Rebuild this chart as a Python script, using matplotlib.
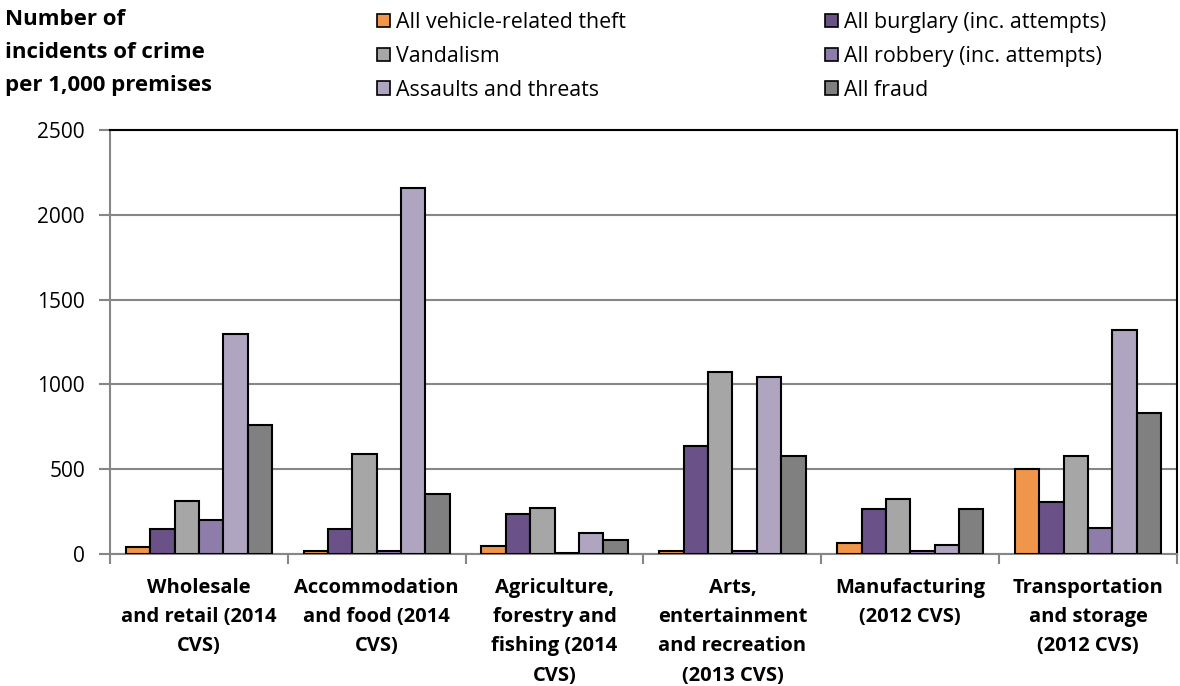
import matplotlib
matplotlib.use("Agg")
import matplotlib.pyplot as plt
import numpy as np
from matplotlib.patches import Patch

categories = ["Wholesale\nand retail (2014\nCVS)",
              "Accommodation\nand food (2014\nCVS)",
              "Agriculture,\nforestry and\nfishing (2014\nCVS)",
              "Arts,\nentertainment\nand recreation\n(2013 CVS)",
              "Manufacturing\n(2012 CVS)",
              "Transportation\nand storage\n(2012 CVS)"]
series_names = ["All vehicle-related theft", "All burglary (inc. attempts)",
                "Vandalism", "All robbery (inc. attempts)",
                "Assaults and threats", "All fraud"]
vehicle = [40, 20, 50, 20, 65, 503]
burglary = [145, 150, 235, 635, 265, 307]
vandalism = [310, 590, 270, 1075, 323, 580]
robbery = [200, 20, 4, 15, 15, 155]
assaults = [1300, 2160, 125, 1045, 53, 1319]
fraud = [760, 355, 80, 575, 265, 833]
yticks = [0, 500, 1000, 1500, 2000, 2500]

data = [vehicle, burglary, vandalism, robbery, assaults, fraud]
colors = ["#F0964A", "#6A5288", "#A6A6A6", "#8E7CAA", "#B0A5C0", "#808080"]

plt.rcParams['font.family'] = ['Open Sans', 'DejaVu Sans']

fig = plt.figure(figsize=(11.8, 6.86), dpi=100)
ax = fig.add_axes([110/1180, 1-554/686, (1177-110)/1180, (554-130)/686])

x = np.arange(len(categories))
w = 0.137
for i, (vals, c) in enumerate(zip(data, colors)):
    ax.bar(x + (i - 2.5) * w, vals, width=w, color=c, edgecolor="black",
           linewidth=1.5, zorder=3)

grey = "#868686"
ax.set_xlim(-0.5, len(categories) - 0.5)
ax.set_ylim(0, 2500)
ax.set_yticks(yticks)
ax.set_yticklabels([str(v) for v in yticks], fontsize=15)
ax.tick_params(axis='y', length=8, width=1.5, color=grey, pad=10)
ax.yaxis.grid(True, color=grey, linewidth=1.5, zorder=0)
ax.set_xticks(x)
ax.set_xticklabels(categories, fontsize=14.5, fontweight='bold', linespacing=1.62, va='top')
ax.tick_params(axis='x', length=0, pad=17)
ax.set_xticks(np.arange(-0.5, len(categories) + 0.5, 1.0), minor=True)
ax.tick_params(axis='x', which='minor', length=7, color=grey, width=1.5)
for s in ["top", "right"]:
    ax.spines[s].set_color("black")
    ax.spines[s].set_linewidth(1.5)
for s in ["left", "bottom"]:
    ax.spines[s].set_color(grey)
    ax.spines[s].set_linewidth(1.5)

fig.text(5/1180, 1-9/686, "Number of\nincidents of crime\nper 1,000 premises",
         fontsize=16, fontweight='bold', va='top', ha='left', linespacing=1.74)

handles = [Patch(facecolor=c, edgecolor="black", linewidth=1.2) for c in colors]
order = [0, 2, 4, 1, 3, 5]
leg = fig.legend([handles[i] for i in order], [series_names[i] for i in order],
                 ncol=2, loc='upper left', bbox_to_anchor=(377/1180, 1 - 12/686),
                 frameon=False, fontsize=15.4, handlelength=0.6, handleheight=0.6,
                 handletextpad=0.3, columnspacing=9.3, labelspacing=0.6,
                 borderaxespad=0, borderpad=0)

fig.savefig("out.png", dpi=100)
